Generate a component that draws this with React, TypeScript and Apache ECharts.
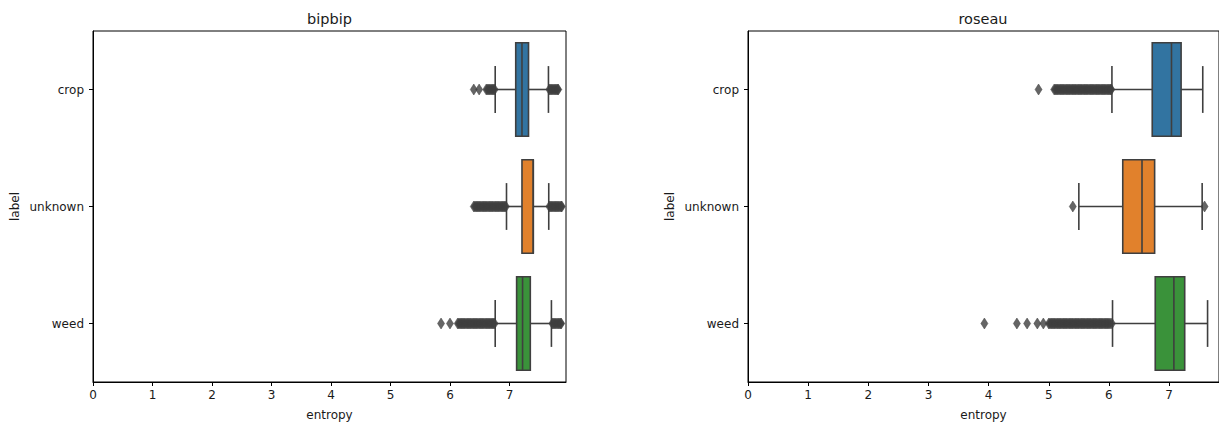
import React, { useEffect, useRef } from 'react';
import * as echarts from 'echarts';

const categories = ['crop', 'unknown', 'weed'];
const palette = ['#3274a1', '#e1812c', '#3a923a'];
const xTicks = [0, 1, 2, 3, 4, 5, 6, 7];

// [lower whisker, Q1, median, Q3, upper whisker] per category
const bipbipBoxes = [
  [6.76, 7.105, 7.21, 7.32, 7.655],
  [6.95, 7.21, 7.4, 7.4, 7.66],
  [6.76, 7.12, 7.22, 7.35, 7.705],
];
const roseauBoxes = [
  [6.05, 6.72, 7.04, 7.2, 7.56],
  [5.5, 6.23, 6.55, 6.76, 7.55],
  [6.06, 6.77, 7.08, 7.26, 7.64],
];

// outliers beyond the whiskers
const bipbipCropFliers = [
  6.4, 6.49, 6.61, 6.63, 6.65, 6.67, 6.69, 6.71, 6.73, 6.75,
  7.67, 7.69, 7.71, 7.73, 7.75, 7.77, 7.79, 7.81, 7.82,
];
const bipbipUnknownFliers = [
  6.4, 6.42, 6.44, 6.46, 6.48, 6.5, 6.52, 6.54, 6.56, 6.58, 6.6, 6.62, 6.64, 6.66, 6.68, 6.7,
  6.72, 6.74, 6.76, 6.78, 6.8, 6.82, 6.84, 6.86, 6.88, 6.9, 6.92, 6.94,
  7.67, 7.69, 7.71, 7.73, 7.75, 7.77, 7.79, 7.81, 7.83, 7.85, 7.87, 7.88,
];
const bipbipWeedFliers = [
  5.85, 6.0, 6.13, 6.15, 6.17, 6.19, 6.21, 6.23, 6.25, 6.27, 6.29, 6.31, 6.33, 6.35, 6.37, 6.39,
  6.41, 6.43, 6.45, 6.47, 6.49, 6.51, 6.53, 6.55, 6.57, 6.59, 6.61, 6.63, 6.65, 6.67, 6.69, 6.71,
  6.73, 6.75, 7.72, 7.74, 7.76, 7.78, 7.8, 7.82, 7.84, 7.86, 7.87,
];
const roseauCropFliers = [
  4.83, 5.09, 5.11, 5.13, 5.15, 5.17, 5.19, 5.21, 5.23, 5.25, 5.27, 5.29, 5.31, 5.33, 5.35, 5.37,
  5.39, 5.41, 5.43, 5.45, 5.47, 5.49, 5.51, 5.53, 5.55, 5.57, 5.59, 5.61, 5.63, 5.65, 5.67, 5.69,
  5.71, 5.73, 5.75, 5.77, 5.79, 5.81, 5.83, 5.85, 5.87, 5.89, 5.91, 5.93, 5.95, 5.97, 5.99, 6.01,
  6.03, 6.04,
];
const roseauUnknownFliers = [5.4, 7.59];
const roseauWeedFliers = [
  3.93, 4.47, 4.64, 4.81, 4.91, 5.0, 5.02, 5.04, 5.06, 5.08, 5.1, 5.12, 5.14, 5.16, 5.18, 5.2,
  5.22, 5.24, 5.26, 5.28, 5.3, 5.32, 5.34, 5.36, 5.38, 5.4, 5.42, 5.44, 5.46, 5.48, 5.5, 5.52,
  5.54, 5.56, 5.58, 5.6, 5.62, 5.64, 5.66, 5.68, 5.7, 5.72, 5.74, 5.76, 5.78, 5.8, 5.82, 5.84,
  5.86, 5.88, 5.9, 5.92, 5.94, 5.96, 5.98, 6.0, 6.02, 6.05,
];

const EDGE = '#3f3f3f';
const TEXT = '#1a1a1a';
const FONT = 'DejaVu Sans';

function renderBox(_params: any, api: any) {
  const cat = api.value(0);
  const lo = api.value(1);
  const q1 = api.value(2);
  const med = api.value(3);
  const q3 = api.value(4);
  const hi = api.value(5);
  const band = api.size([0, 1])[1];
  const half = band * 0.4;
  const cap = band * 0.2;
  const [xLo, y] = api.coord([lo, cat]);
  const xQ1 = api.coord([q1, cat])[0];
  const xMed = api.coord([med, cat])[0];
  const xQ3 = api.coord([q3, cat])[0];
  const xHi = api.coord([hi, cat])[0];
  const stroke = { stroke: EDGE, lineWidth: 1.6 };
  return {
    type: 'group',
    children: [
      { type: 'line', shape: { x1: xLo, y1: y, x2: xQ1, y2: y }, style: stroke },
      { type: 'line', shape: { x1: xQ3, y1: y, x2: xHi, y2: y }, style: stroke },
      { type: 'line', shape: { x1: xLo, y1: y - cap, x2: xLo, y2: y + cap }, style: stroke },
      { type: 'line', shape: { x1: xHi, y1: y - cap, x2: xHi, y2: y + cap }, style: stroke },
      {
        type: 'rect',
        shape: { x: xQ1, y: y - half, width: xQ3 - xQ1, height: half * 2 },
        style: { fill: palette[cat], stroke: EDGE, lineWidth: 1.6 },
      },
      { type: 'line', shape: { x1: xMed, y1: y - half, x2: xMed, y2: y + half }, style: stroke },
    ],
  };
}

function boxData(boxes: number[][]) {
  return boxes.map((b, i) => [i, ...b]);
}

function flierData(lists: number[][]) {
  const out: any[] = [];
  lists.forEach((vals, i) => vals.forEach((v) => out.push([v, i])));
  return out;
}

function xAxisFor(gridIndex: number, max: number) {
  return {
    type: 'value',
    gridIndex,
    min: 0,
    max,
    interval: 1,
    name: 'entropy',
    nameLocation: 'middle',
    nameGap: 27,
    nameTextStyle: { color: TEXT, fontSize: 12, fontFamily: FONT },
    splitLine: { show: false },
    axisLine: { show: true, onZero: false, lineStyle: { color: '#000', width: 1 } },
    axisTick: { show: true, length: 4, customValues: xTicks, lineStyle: { color: '#000', width: 1 } },
    axisLabel: { color: TEXT, fontSize: 12, fontFamily: FONT, margin: 7, customValues: xTicks },
  };
}

function yAxisFor(gridIndex: number) {
  return {
    type: 'category',
    gridIndex,
    data: categories,
    inverse: true,
    name: 'label',
    nameLocation: 'middle',
    nameGap: 72,
    nameTextStyle: { color: TEXT, fontSize: 12, fontFamily: FONT },
    axisLine: { show: true, lineStyle: { color: '#000', width: 1 } },
    axisTick: { show: true, alignWithLabel: true, length: 4, lineStyle: { color: '#000', width: 1 } },
    axisLabel: { color: TEXT, fontSize: 12, fontFamily: FONT, margin: 9 },
    splitLine: { show: false },
  };
}

const flierStyle = {
  type: 'scatter',
  symbol: 'diamond',
  symbolSize: [7, 11],
  itemStyle: { color: EDGE, borderColor: EDGE, borderWidth: 0.6 },
  z: 3,
};

export default function App() {
  const ref = useRef<HTMLDivElement>(null);

  useEffect(() => {
    document.body.style.margin = '0';
    const chart = echarts.init(ref.current as HTMLDivElement, undefined, { renderer: 'svg' });
    const gridBox = { show: true, borderColor: '#000', borderWidth: 1, backgroundColor: '#fff' };
    chart.setOption({
      animation: false,
      backgroundColor: '#fff',
      grid: [
        { left: 93, top: 31, width: 473, height: 355, ...gridBox },
        { left: 748, top: 31, width: 474, height: 355, ...gridBox },
      ],
      xAxis: [xAxisFor(0, 7.95), xAxisFor(1, 7.83)],
      yAxis: [yAxisFor(0), yAxisFor(1)],
      graphic: [
        {
          type: 'text',
          x: 329.5,
          y: 19,
          style: { text: 'bipbip', fontSize: 14.5, fontFamily: FONT, fill: TEXT, align: 'center', verticalAlign: 'middle' },
        },
        {
          type: 'text',
          x: 983,
          y: 19,
          style: { text: 'roseau', fontSize: 14.5, fontFamily: FONT, fill: TEXT, align: 'center', verticalAlign: 'middle' },
        },
      ],
      series: [
        {
          type: 'custom',
          xAxisIndex: 0,
          yAxisIndex: 0,
          renderItem: renderBox,
          encode: { x: [1, 2, 3, 4, 5], y: 0 },
          data: boxData(bipbipBoxes),
        },
        {
          type: 'custom',
          xAxisIndex: 1,
          yAxisIndex: 1,
          renderItem: renderBox,
          encode: { x: [1, 2, 3, 4, 5], y: 0 },
          data: boxData(roseauBoxes),
        },
        {
          ...flierStyle,
          xAxisIndex: 0,
          yAxisIndex: 0,
          data: flierData([bipbipCropFliers, bipbipUnknownFliers, bipbipWeedFliers]),
        },
        {
          ...flierStyle,
          xAxisIndex: 1,
          yAxisIndex: 1,
          data: flierData([roseauCropFliers, roseauUnknownFliers, roseauWeedFliers]),
        },
      ],
    });
    return () => chart.dispose();
  }, []);

  return <div ref={ref} style={{ width: 1219, height: 426 }} />;
}
